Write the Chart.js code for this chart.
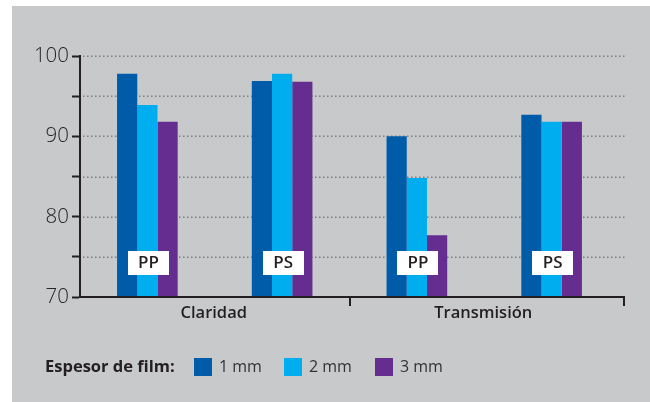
<!DOCTYPE html>
<html>
<head>
<meta charset="utf-8">
<script src="https://cdn.jsdelivr.net/npm/chart.js@4"></script>
<style>
  html, body { margin: 0; padding: 0; background: #ffffff; }
  #wrap { width: 650px; height: 402px; position: relative; }
  canvas { display: block; }
</style>
</head>
<body>
<div id="wrap"><canvas id="c" width="650" height="402"></canvas></div>
<script>
// Property groups and the material under each pair of bars
const groups = ['Claridad', 'Transmisión'];
const materials = ['PP', 'PS', 'PP', 'PS'];

// Film thickness series (%)
const seriesNames = ['1 mm', '2 mm', '3 mm'];
const values1mm = [97.8, 96.9, 90.0, 92.7];
const values2mm = [93.9, 97.8, 84.8, 91.8];
const values3mm = [91.8, 96.8, 77.7, 91.8];

// Labelled ticks on the value axis
const yTicks = [70, 80, 90, 100];
const legendTitle = 'Espesor de film:';

const colors = ['#005ca9', '#00aeef', '#662d91'];
const INK = '#231f20';
const FONT = "'Open Sans', 'Noto Sans', sans-serif";
const AXIS_OVERHANG = 5;

const panelBackground = {
  id: 'panelBackground',
  beforeDraw(chart) {
    const ctx = chart.ctx;
    ctx.save();
    ctx.fillStyle = '#c8c9cb';
    ctx.fillRect(12, 6, chart.width - 12, chart.height - 6);
    ctx.restore();
  }
};

const dottedGrid = {
  id: 'dottedGrid',
  beforeDatasetsDraw(chart) {
    const { ctx, chartArea, scales } = chart;
    const y = scales.y;
    ctx.save();
    ctx.strokeStyle = '#808080';
    ctx.lineWidth = 1.5;
    ctx.setLineDash([1.5, 2.5]);
    y.ticks.forEach(t => {
      if (t.value <= y.min) return;
      const py = Math.round(y.getPixelForValue(t.value)) + 0.25;
      ctx.beginPath();
      ctx.moveTo(chartArea.left + 3, py);
      ctx.lineTo(chartArea.right + AXIS_OVERHANG + 1, py);
      ctx.stroke();
    });
    ctx.restore();
  }
};

const annotations = {
  id: 'annotations',
  afterDraw(chart) {
    const { ctx, chartArea, scales } = chart;
    const x = scales.x;
    const bottom = chartArea.bottom;
    const axisEnd = chartArea.right + AXIS_OVERHANG;
    ctx.save();

    // category axis line
    ctx.strokeStyle = INK;
    ctx.lineWidth = 2;
    ctx.beginPath();
    ctx.moveTo(chartArea.left - 1, bottom);
    ctx.lineTo(axisEnd + 1, bottom);
    ctx.stroke();

    // separator ticks between property groups and at the axis end
    const perGroup = materials.length / groups.length;
    const seps = [];
    for (let g = 1; g < groups.length; g++) {
      seps.push((x.getPixelForValue(g * perGroup - 1) + x.getPixelForValue(g * perGroup)) / 2);
    }
    seps.push(axisEnd);
    seps.forEach(px => {
      ctx.beginPath();
      ctx.moveTo(Math.round(px), bottom);
      ctx.lineTo(Math.round(px), bottom + 9);
      ctx.stroke();
    });

    // group names
    ctx.fillStyle = INK;
    ctx.font = `600 16.5px ${FONT}`;
    ctx.textAlign = 'center';
    ctx.textBaseline = 'middle';
    groups.forEach((name, g) => {
      const a = x.getPixelForValue(g * perGroup);
      const b = x.getPixelForValue(g * perGroup + perGroup - 1);
      ctx.fillText(name, (a + b) / 2 - 1, bottom + 16);
    });

    // material tags inside the bar groups
    ctx.font = `600 17px ${FONT}`;
    materials.forEach((m, i) => {
      const cx = x.getPixelForValue(i) + 1;
      ctx.fillStyle = '#ffffff';
      ctx.fillRect(Math.round(cx - 20.5), bottom - 46, 41, 24);
      ctx.fillStyle = INK;
      ctx.fillText(m, cx, bottom - 33.5);
    });

    // legend
    ctx.textAlign = 'left';
    ctx.font = `700 16.5px ${FONT}`;
    ctx.fillStyle = INK;
    ctx.fillText(legendTitle, 45, 367);
    const keyX = [194, 284, 375];
    ctx.font = `400 16px ${FONT}`;
    chart.data.datasets.forEach((ds, i) => {
      ctx.fillStyle = ds.backgroundColor;
      ctx.fillRect(keyX[i], 358, 18, 18);
      ctx.fillStyle = '#333333';
      ctx.fillText(ds.label, keyX[i] + 25, 367);
    });

    ctx.restore();
  }
};

const seriesValues = [values1mm, values2mm, values3mm];

new Chart(document.getElementById('c'), {
  type: 'bar',
  data: {
    labels: materials,
    datasets: seriesNames.map((name, i) => ({
      label: name,
      data: seriesValues[i],
      backgroundColor: colors[i],
      borderWidth: 0,
      categoryPercentage: 0.45,
      barPercentage: 1.0
    }))
  },
  options: {
    responsive: false,
    animation: false,
    devicePixelRatio: 1,
    layout: { padding: { top: 56, right: 31, left: 0, bottom: 0 } },
    plugins: {
      legend: { display: false },
      tooltip: { enabled: false }
    },
    scales: {
      x: {
        grid: { display: false },
        border: { display: false },
        ticks: { display: false },
        afterFit(s) { s.height = 105; }
      },
      y: {
        min: 70,
        max: 100,
        ticks: {
          stepSize: 5,
          padding: 3,
          color: '#262626',
          font: { family: FONT, size: 20.5, weight: 300 },
          callback: v => (yTicks.includes(v) ? String(v) : '')
        },
        grid: {
          drawOnChartArea: false,
          drawTicks: true,
          tickLength: 8,
          tickWidth: 2,
          tickColor: INK
        },
        border: { display: true, color: INK, width: 2 },
        afterFit(s) { s.width = 80; }
      }
    }
  },
  plugins: [panelBackground, dottedGrid, annotations]
});
</script>
</body>
</html>
